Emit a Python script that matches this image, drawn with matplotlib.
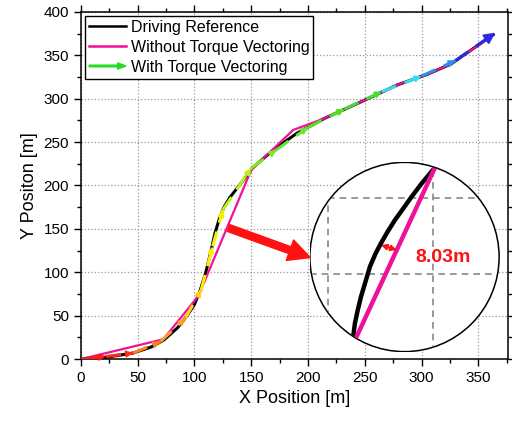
import numpy as np
import matplotlib
matplotlib.use("Agg")
import matplotlib.pyplot as plt
from matplotlib.patches import Circle, FancyArrow
from matplotlib.lines import Line2D
from matplotlib.legend_handler import HandlerPatch
from matplotlib.ticker import MultipleLocator

plt.rcParams['font.family'] = ['Liberation Sans', 'DejaVu Sans']

# driving reference path (black)
ref_x = [0, 10, 23, 46, 62, 73, 85, 93.5, 100, 105, 110, 115, 118, 122, 126, 131, 137, 143,
         151, 165, 176, 190, 214, 243.6, 279, 305, 326, 363]
ref_y = [0, 1, 2.3, 7, 14, 22, 36, 50, 63, 79, 100, 127, 145, 162, 175, 186, 196, 206,
         220, 236, 247, 260, 277, 294.5, 316, 328, 340, 373.6]

# without torque vectoring (magenta)
wo_x = [0, 72.6, 103.6, 150, 187, 214, 243.6, 279, 305, 326, 355]
wo_y = [0, 22.9, 73, 218, 264, 277, 294.5, 316, 328, 340, 366]

# with torque vectoring (coloured arrows)
tv_x = [2, 22, 46, 70, 92, 106, 116, 125, 150, 172, 200, 232, 265, 300, 330, 365]
tv_y = [0.5, 3, 7, 20, 47, 80, 130, 172, 220, 241, 267, 288, 308, 326, 344, 376]
tv_colors = ['#ff1a1a', '#ff2a10', '#ff7f1f', '#ff9a2a', '#ffd21a', '#ffee00', '#f2f200',
             '#b8f01c', '#7ee81e', '#66e632', '#55e020', '#44dd33', '#33ddee', '#2a8fea',
             '#2a2ae0']

# zoom circle contents (inset axes fraction)
in_ref_u = [0.231, 0.239, 0.254, 0.271, 0.292, 0.318, 0.348, 0.376, 0.411, 0.45,
            0.494, 0.538, 0.591, 0.661]
in_ref_v = [0.089, 0.151, 0.221, 0.291, 0.361, 0.449, 0.519, 0.572, 0.633, 0.695,
            0.756, 0.818, 0.888, 0.972]
in_wo_u = [0.248, 0.661]
in_wo_v = [0.081, 0.972]
gap_label = "8.03m"

fig = plt.figure(figsize=(5.12, 4.23), dpi=100)
ax = fig.add_axes([0.158, 0.151, 0.834, 0.821])

ax.plot(ref_x, ref_y, color='black', lw=2.2, zorder=3)
ax.plot(wo_x, wo_y, color='#ee1199', lw=1.6, zorder=4)

for i in range(len(tv_x) - 1):
    x0, y0, x1, y1 = tv_x[i], tv_y[i], tv_x[i + 1], tv_y[i + 1]
    c = tv_colors[i]
    ax.plot([x0, x1], [y0, y1], color=c, lw=2.2, dashes=(5, 3), zorder=5)
    ax.annotate('', xy=(x1, y1), xytext=(x0 + 0.8 * (x1 - x0), y0 + 0.8 * (y1 - y0)),
                arrowprops=dict(arrowstyle='-|>,head_length=0.5,head_width=0.25',
                                color=c, lw=1.5, shrinkA=0, shrinkB=0,
                                mutation_scale=7 if i < len(tv_x) - 2 else 13),
                zorder=6)

ax.set_xlim(0, 376)
ax.set_ylim(0, 400)
ax.xaxis.set_major_locator(MultipleLocator(50))
ax.xaxis.set_minor_locator(MultipleLocator(25))
ax.yaxis.set_major_locator(MultipleLocator(50))
ax.yaxis.set_minor_locator(MultipleLocator(25))
ax.tick_params(which='both', direction='out', labelsize=11, width=1)
ax.tick_params(which='both', top=True, right=True)
ax.tick_params(which='major', length=5)
ax.tick_params(which='minor', length=3)
ax.grid(True, which='major', linestyle=':', color='#999999', lw=0.9)
for s in ax.spines.values():
    s.set_linewidth(1.1)

ax.set_xlabel("X Position [m]", fontsize=13)
ax.set_ylabel("Y Positon [m]", fontsize=13)


def make_arrow(legend, orig_handle, xdescent, ydescent, width, height, fontsize):
    return FancyArrow(0, height / 2, width, 0, width=1.2, head_width=4.5,
                      head_length=6, length_includes_head=True, color='#22dd22')


arrow_handle = FancyArrow(0, 0, 1, 0, color='#22dd22')
handles = [Line2D([], [], color='black', lw=1.8),
           Line2D([], [], color='#ee1199', lw=1.8),
           arrow_handle]
labels = ["Driving Reference", "Without Torque Vectoring", "With Torque Vectoring"]
leg = ax.legend(handles, labels, loc='upper left', bbox_to_anchor=(0.01, 0.988),
                borderaxespad=0, fontsize=11.5, handlelength=2.3, handletextpad=0.3,
                labelspacing=0.3, borderpad=0.25, fancybox=False, framealpha=1,
                edgecolor='black',
                handler_map={FancyArrow: HandlerPatch(patch_func=make_arrow)})
leg.get_frame().set_linewidth(1)

# big red pointer arrow
ax.annotate('', xy=(202, 117), xytext=(130, 151),
            arrowprops=dict(arrowstyle='simple,head_length=0.6,head_width=0.6,tail_width=0.2',
                            mutation_scale=26, color='#ff1111', shrinkA=0, shrinkB=0),
            zorder=7)

# zoom circle
axi = fig.add_axes([309.5 / 512, 1 - 352 / 423, 190 / 512, 190 / 423])
axi.set_xlim(0, 1)
axi.set_ylim(0, 1)
axi.axis('off')
circ = Circle((0.5, 0.5), 0.498, transform=axi.transAxes, facecolor='white',
              edgecolor='black', lw=1.1, zorder=1)
axi.add_patch(circ)
clip = Circle((0.5, 0.5), 0.495, transform=axi.transAxes)

gl = dict(color='#888888', lw=1.2, dashes=(4, 3), zorder=2)
lines = [axi.plot([0.097, 1], [0.812, 0.812], **gl)[0],
         axi.plot([0, 1], [0.411, 0.411], **gl)[0],
         axi.plot([0.097, 0.097], [0, 0.812], **gl)[0],
         axi.plot([0.65, 0.65], [0, 1], **gl)[0]]
lines.append(axi.plot(in_ref_u, in_ref_v, color='black', lw=3.2, zorder=3)[0])
lines.append(axi.plot(in_wo_u, in_wo_v, color='#ee1199', lw=3.2, zorder=3)[0])
for ln in lines:
    ln.set_clip_path(clip)

axi.annotate('', xy=(0.459, 0.537), xytext=(0.376, 0.563),
             arrowprops=dict(arrowstyle='<|-|>,head_length=0.4,head_width=0.2',
                             color='#ff1111', lw=1.5, shrinkA=0, shrinkB=0,
                             mutation_scale=8), zorder=4)
axi.text(0.703, 0.495, gap_label, color='#ff1111', fontsize=14, fontweight='bold',
         ha='center', va='center', zorder=5)

fig.savefig("out.png", dpi=100)
